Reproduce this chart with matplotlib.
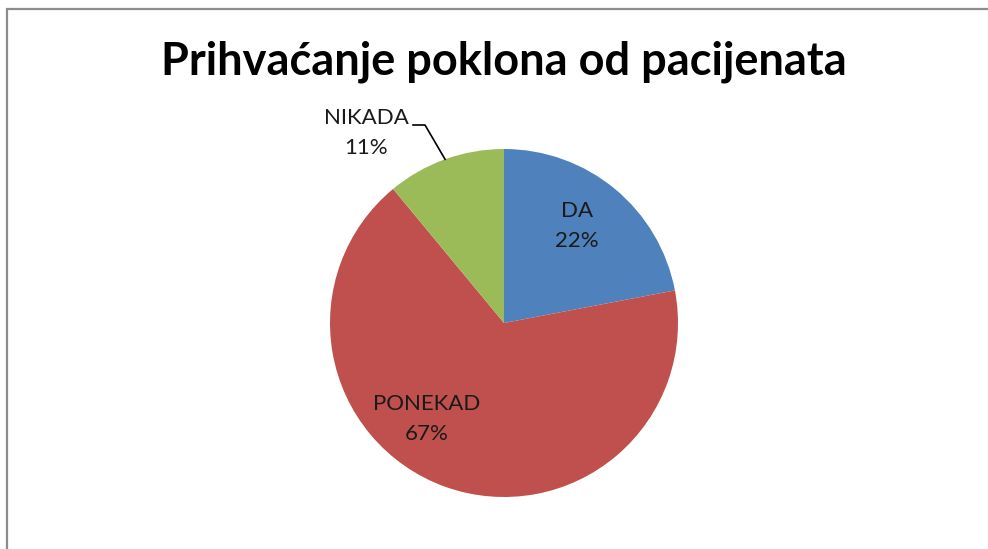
import numpy as np
import matplotlib.pyplot as plt
from matplotlib.patches import Rectangle

labels = ['DA', 'PONEKAD', 'NIKADA']
values = [22, 67, 11]
colors = ['#4F81BD', '#C0504D', '#9BBB59']
title = 'Prihvaćanje poklona od pacijenata'

W, H = 988, 549
fig = plt.figure(figsize=(W / 100, H / 100), dpi=100)
ax = fig.add_axes([0, 0, 1, 1])

# chart frame (cropped at right and bottom)
ax.add_patch(Rectangle((7, -20), W + 20, H - 9 + 20, fill=False,
                       edgecolor='#8c8c8c', lw=1.6))

cx, cy, r = 504, H - 323, 174
ax.pie(values, colors=colors, startangle=90, counterclock=False,
       center=(cx, cy), radius=r, frame=True,
       wedgeprops=dict(linewidth=0, edgecolor='none'))
ax.set_xlim(0, W)
ax.set_ylim(0, H)
ax.set_aspect('equal')
ax.axis('off')

font = 'Lato'
total = sum(values)
pcts = ['{:.0f}%'.format(v / total * 100) for v in values]
txt = dict(ha='center', va='center', fontsize=16, family=font,
           linespacing=1.65, color='#1a1a1a')

# labels inside wedges (offsets from pie center, pixels)
offsets = [(73, 97), (-77, -96)]
for i, (dx, dy) in enumerate(offsets):
    ax.text(cx + dx, cy + dy, labels[i] + '\n' + pcts[i], **txt)

# NIKADA label outside with leader line to wedge middle
lx, ly = cx - 138, cy + 190
ax.text(lx, ly, labels[2] + '\n' + pcts[2], **txt)
ang = np.deg2rad(90 + values[2] / total * 360 / 2)
ex, ey = cx + r * np.cos(ang), cy + r * np.sin(ang)
ax.plot([lx + 47, lx + 59, ex], [ly + 8, ly + 8, ey], color='black', lw=1.2)

ax.text(cx, H - 62, title, ha='center', va='center',
        fontsize=32.5, fontweight='bold', family=font)

fig.savefig('out.png', dpi=100)
